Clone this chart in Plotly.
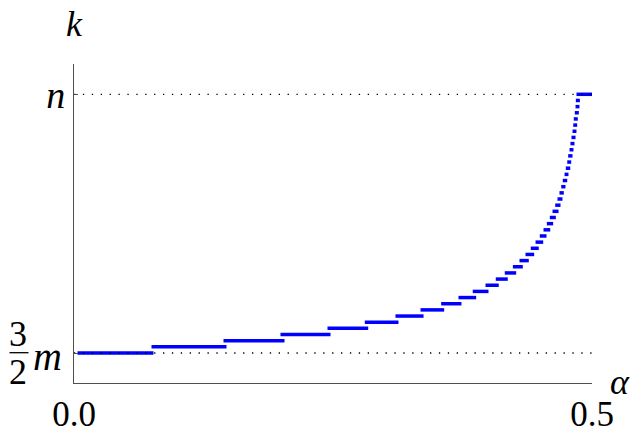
import plotly.graph_objects as go

# ---- data ----
# step levels of k (3/2 m = 42, n = 84)
k_levels = [42, 43, 44, 45, 46, 47, 48, 49, 50, 51, 52, 53, 54, 55, 56, 57, 58, 59, 60, 61, 62,
            63, 64, 65, 66, 67, 68, 69, 70, 71, 72, 73, 74, 75, 76, 77, 78, 79, 80, 81, 82, 83, 84]
alpha_start = [0.0034, 0.0748, 0.1443, 0.1993, 0.2447, 0.2807, 0.3103, 0.3345, 0.3544, 0.3711,
               0.3849, 0.3972, 0.4071, 0.4158, 0.4236, 0.4300, 0.4358, 0.4409, 0.4455, 0.4496,
               0.4532, 0.4564, 0.4593, 0.4619, 0.4645, 0.4667, 0.4686, 0.4703, 0.4718, 0.4735,
               0.4747, 0.4761, 0.4770, 0.4783, 0.4792, 0.4802, 0.4812, 0.4819, 0.4824, 0.4834,
               0.4841, 0.4844, 0.4850]
alpha_end = [0.0767, 0.1472, 0.2032, 0.2476, 0.2840, 0.3132, 0.3374, 0.3573, 0.3740, 0.3882,
             0.4001, 0.4100, 0.4187, 0.4268, 0.4332, 0.4390, 0.4442, 0.4486, 0.4529, 0.4561,
             0.4597, 0.4625, 0.4651, 0.4677, 0.4696, 0.4715, 0.4728, 0.4744, 0.4761, 0.4773,
             0.4790, 0.4799, 0.4812, 0.4821, 0.4831, 0.4841, 0.4850, 0.4857, 0.4863, 0.4873,
             0.4879, 0.4883, 0.5014]
k_low = 42      # 3/2 m
k_high = 84     # n
alpha_ticks = [0.0, 0.5]
alpha_ticklabels = ["0.0", "0.5"]

# ---- geometry (screen pixels) ----
W, H = 633, 427
L_S, R_S, T_S, B_S = 74, 592, 64, 383      # plot area edges
ML, MT = L_S, T_S
MR, MB = W - R_S, H - B_S
PW, PH = W - ML - MR, H - MT - MB
FONT = "Liberation Serif"


def px(xs_):
    return (xs_ - ML) / PW


def py(ys_):
    return (H - MB - ys_) / PH


xs, ys = [], []
for a0, a1, k in zip(alpha_start, alpha_end, k_levels):
    xs += [a0, a1, None]
    ys += [k, k, None]

fig = go.Figure()
fig.add_trace(go.Scatter(x=xs, y=ys, mode="lines", connectgaps=False,
                         line=dict(color="#0000ff", width=3.5), hoverinfo="skip"))
for lvl in (k_low, k_high):
    fig.add_trace(go.Scatter(x=[alpha_ticks[0], alpha_ticks[-1]], y=[lvl, lvl], mode="lines",
                             line=dict(color="black", width=1.3, dash="1.3px,7.6px"),
                             hoverinfo="skip"))

fig.update_layout(
    width=W, height=H, showlegend=False,
    margin=dict(l=ML, r=MR, t=MT, b=MB, pad=0, autoexpand=False),
    paper_bgcolor="white", plot_bgcolor="white",
    font=dict(family=FONT, size=36, color="black"),
    xaxis=dict(range=[0, 0.5], showgrid=False, zeroline=False, showline=True, automargin=False,
               linecolor="#505050", linewidth=1.2, ticks="inside", ticklen=4,
               tickcolor="#505050", tickwidth=1.2,
               tickvals=alpha_ticks, ticktext=alpha_ticklabels,
               tickfont=dict(family=FONT, size=35, color="black")),
    yaxis=dict(range=[37.13, 88.92], showgrid=False, zeroline=False, showline=True, automargin=False,
               linecolor="#505050", linewidth=1.2, ticks="inside", ticklen=4,
               tickcolor="#505050", tickwidth=1.2,
               tickvals=[k_low, k_high], ticktext=["", "<i>n</i>"],
               tickfont=dict(family=FONT, size=38, color="black")),
)

ann = dict(xref="paper", yref="paper", showarrow=False,
           font=dict(family=FONT, size=36, color="black"))
fig.add_annotation(text="3", x=px(18), y=py(334), xanchor="center", yanchor="middle", **ann)
fig.add_annotation(text="2", x=px(18), y=py(372), xanchor="center", yanchor="middle", **ann)
fig.add_annotation(text="<i>m</i>", x=px(47), y=py(356), xanchor="center", yanchor="middle",
                   xref="paper", yref="paper", showarrow=False,
                   font=dict(family=FONT, size=40, color="black"))
fig.add_annotation(text="<i>k</i>", x=px(74), y=py(24), xanchor="center", yanchor="middle", **ann)
fig.add_annotation(text="<i>α</i>", x=px(620), y=py(382), xanchor="center", yanchor="middle", **ann)
fig.add_shape(type="line", xref="paper", yref="paper", x0=px(9.5), x1=px(28.5),
              y0=py(352.7), y1=py(352.7), line=dict(color="black", width=1.3))

fig.write_html("out.html", config={"displayModeBar": False},
               post_script="document.body.style.margin='0';document.body.style.overflow='hidden';")
